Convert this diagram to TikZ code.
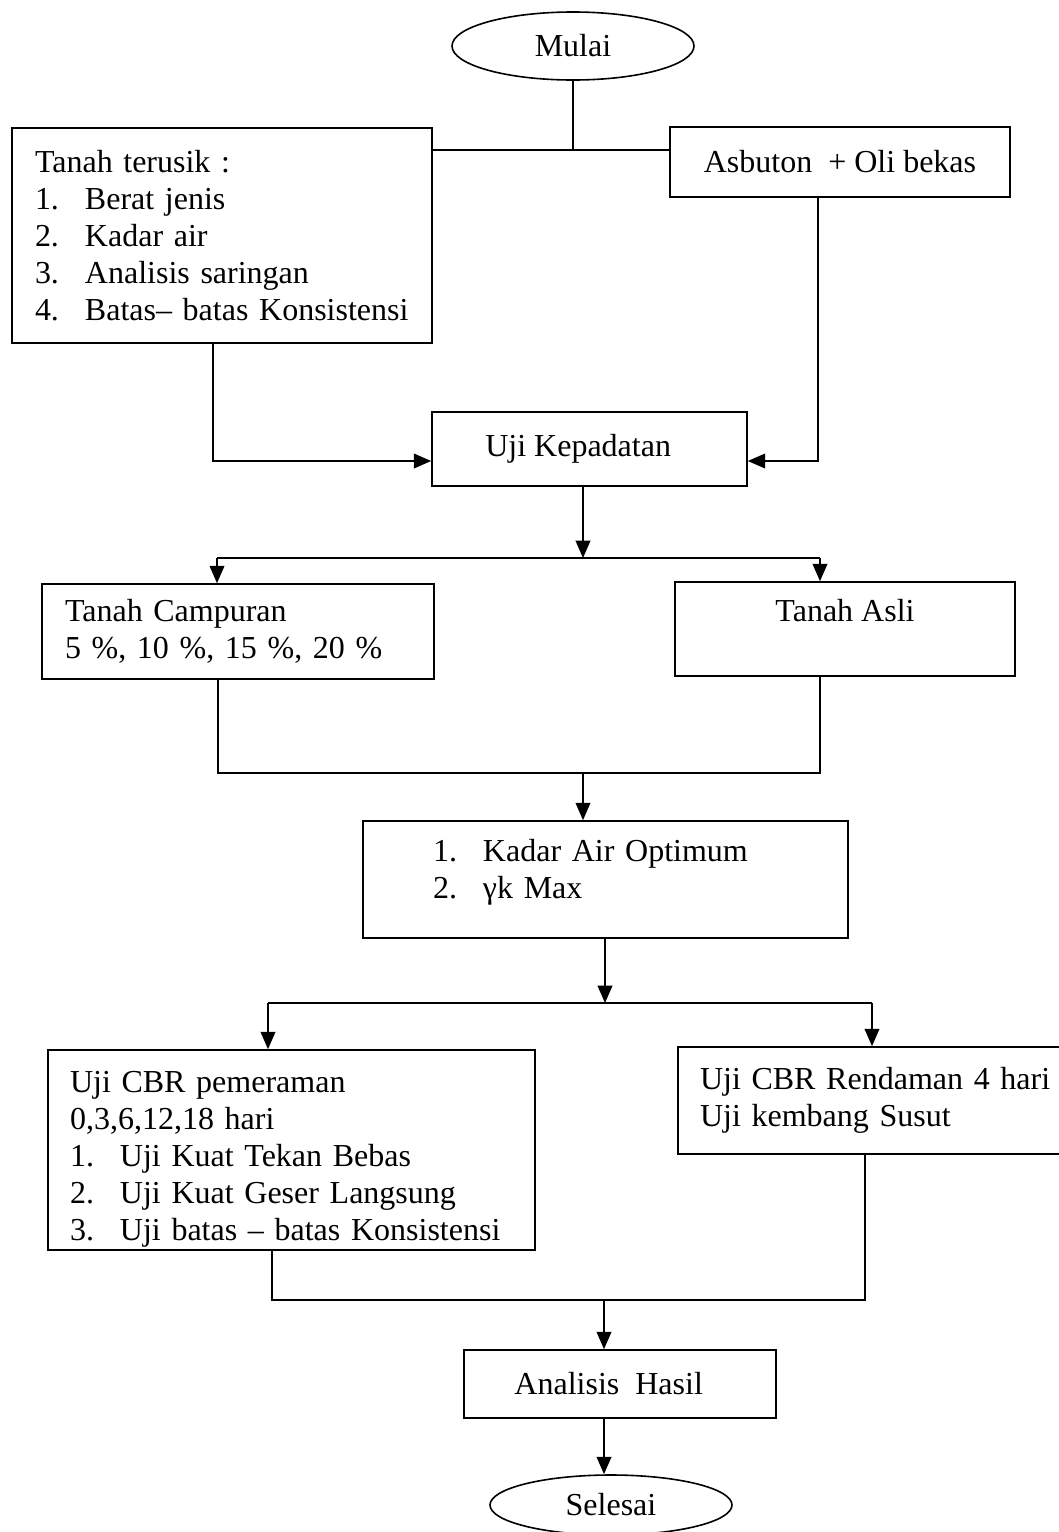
\documentclass[tikz,border=0pt]{standalone}
\usepackage{fontspec}
\setmainfont{Liberation Serif}
\usetikzlibrary{positioning}
\usetikzlibrary{shapes.geometric}
\usetikzlibrary{arrows.meta}
\newcommand{\pxu}{0.75pt}
\newcommand{\itm}[2]{\mbox{\makebox[37.5pt][l]{#1}#2}}
\tikzset{
	flowbox/.style={draw, rectangle, line width=1.2pt, inner sep=0pt, font=\fontsize{24}{27.75}\selectfont},
	listbox/.style={flowbox, align=left},
	flowend/.style={draw, ellipse, line width=1.2pt, inner sep=0pt, font=\fontsize{24}{27.75}\selectfont},
	flowline/.style={line width=1.2pt},
	flowarrow/.style={line width=1.2pt, -{Triangle[length=13pt,width=11pt]}}
}
\begin{document}
\begin{tikzpicture}[x=0.75pt,y=-0.75pt]
	\useasboundingbox (0,0) rectangle (1059,1532);
	\node [flowend, minimum width=242*\pxu, minimum height=68*\pxu] (mulai) at (573,46) {Mulai};
	\node [listbox, minimum width=420*\pxu, minimum height=215*\pxu, text width=374*\pxu, inner xsep=23*\pxu] (terusik) at (222,235.5) {Tanah terusik :\\\itm{1.}{Berat jenis}\\\itm{2.}{Kadar air}\\\itm{3.}{Analisis saringan}\\\itm{4.}{Batas-- batas Konsistensi}};
	\node [flowbox, minimum width=340*\pxu, minimum height=70*\pxu] (asbuton) at (840,162) {Asbuton~~+ Oli bekas};
	\node [flowbox, minimum width=315*\pxu, minimum height=74*\pxu] (padat) at (589.5,449) {Uji Kepadatan\kern17pt};
	\node [listbox, minimum width=392*\pxu, minimum height=95*\pxu, text width=346*\pxu, inner xsep=23*\pxu] (campur) at (238,631.5) {Tanah Campuran\\5~\%, 10~\%, 15~\%, 20~\%};
	\node [flowbox, minimum width=340*\pxu, minimum height=94*\pxu, align=center] (asli) at (845,629) {Tanah Asli\\\mbox{}};
	\node [listbox, minimum width=485*\pxu, minimum height=117*\pxu, text width=345*\pxu, inner xsep=70*\pxu, text depth=43.5pt] (optimum) at (605.5,879.5) {\itm{1.}{Kadar Air Optimum}\\\itm{2.}{γk Max}};
	\node [listbox, minimum width=487*\pxu, minimum height=200*\pxu, text width=443*\pxu, inner xsep=22*\pxu, text depth=101.5pt] (peram) at (291.5,1150) {Uji CBR pemeraman\\0,3,6,12,18 hari\\\itm{1.}{Uji Kuat Tekan Bebas}\\\itm{2.}{Uji Kuat Geser Langsung}\\\itm{3.}{Uji batas -- batas Konsistensi}};
	\node [listbox, minimum width=384*\pxu, minimum height=107*\pxu, text width=340*\pxu, inner xsep=22*\pxu] (rendam) at (870,1100.5) {\mbox{Uji CBR Rendaman 4 hari}\\\mbox{Uji kembang Susut}};
	\node [flowbox, minimum width=312*\pxu, minimum height=68*\pxu] (hasil) at (620,1384) {Analisis~~Hasil\kern17pt};
	\node [flowend, minimum width=242*\pxu, minimum height=60*\pxu] (selesai) at (611,1505) {Selesai};
	% top part
	\coordinate (j1) at (573,150); \draw [flowline] (mulai.south) -- (j1); \draw [flowline] (terusik.east |- j1) -- (asbuton.west |- j1);
	\coordinate (t1) at (213,461); \draw [flowarrow] (terusik.south -| t1) -- (t1) -- (padat.west |- t1);
	\coordinate (a1) at (818,461); \draw [flowarrow] (asbuton.south -| a1) -- (a1) -- (padat.east |- a1);
	% split after Uji Kepadatan
	\coordinate (j2) at (583,558); \coordinate (c1) at (217,558); \coordinate (r1) at (820,558);
	\draw [flowarrow] (padat.south -| j2) -- (j2); \draw [flowline] (c1) -- (r1);
	\draw [flowarrow] (c1) -- (campur.north -| c1); \draw [flowarrow] (r1) -- (asli.north -| r1);
	\coordinate (j3) at (583,773); \coordinate (c2) at (218,773); \coordinate (r2) at (820,773);
	\draw [flowline] (campur.south -| c2) -- (c2) -- (r2) -- (asli.south -| r2); \draw [flowarrow] (j3) -- (optimum.north -| j3);
	% split after optimum
	\coordinate (j4) at (605,1003); \coordinate (c3) at (268,1003); \coordinate (r3) at (872,1003);
	\draw [flowarrow] (optimum.south -| j4) -- (j4); \draw [flowline] (c3) -- (r3);
	\draw [flowarrow] (c3) -- (peram.north -| c3); \draw [flowarrow] (r3) -- (rendam.north -| r3);
	\coordinate (j5) at (604,1300); \coordinate (c4) at (272,1300); \coordinate (r4) at (865,1300);
	\draw [flowline] (peram.south -| c4) -- (c4) -- (r4) -- (rendam.south -| r4); \draw [flowarrow] (j5) -- (hasil.north -| j5);
	\draw [flowarrow] (hasil.south -| j5) -- (selesai.north -| j5);
\end{tikzpicture}
\end{document}
